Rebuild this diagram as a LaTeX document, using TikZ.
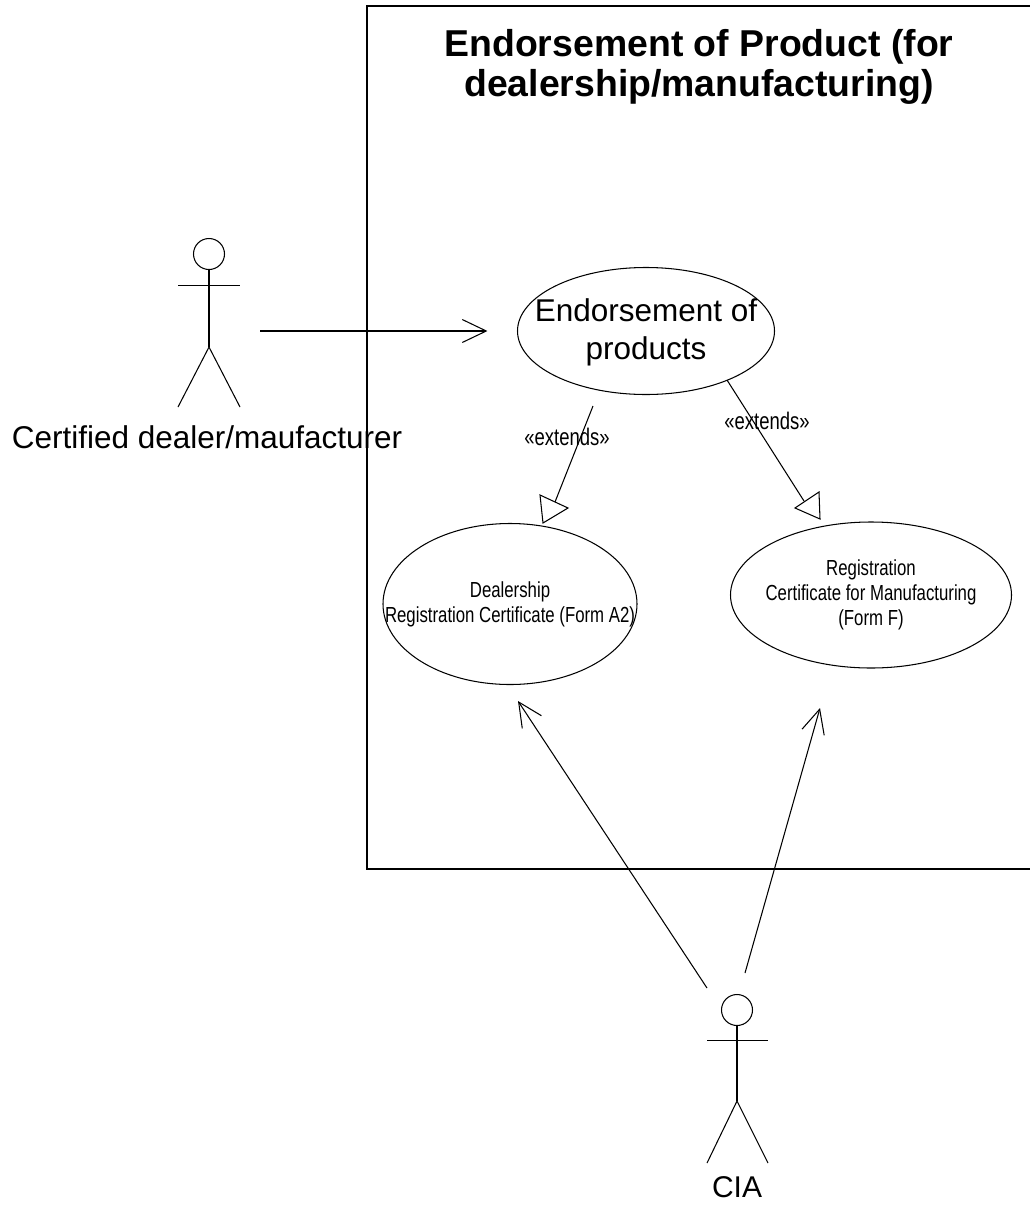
\documentclass[tikz,border=0pt]{standalone}
\usepackage{fontspec}
\setmainfont{Liberation Sans}
\newfontfamily\narrowsans[FakeStretch=0.77]{Liberation Sans}
\usetikzlibrary{arrows.meta,positioning,shapes.geometric,calc}

\tikzset{
  usecase/.style={ellipse, draw, inner sep=0pt},
  casetext/.style={align=center, inner sep=0pt,
    font=\narrowsans\fontsize{21.8}{25}\selectfont},
  head/.style={circle, draw, minimum size=31pt, inner sep=0pt},
  actorname/.style={font=\fontsize{31.5}{36}\selectfont},
  assoc/.style={-{Straight Barb[length=24pt,width=23pt]}},
  stereo/.style={font=\narrowsans\fontsize{24}{26}\selectfont},
}

\begin{document}
\begin{tikzpicture}[x=1pt, y=-1pt, line width=1.05pt]
    \useasboundingbox (0,0) rectangle (1029,1205);

    % SYSTEM BOUNDARY
    \draw (367,6) rectangle (1040,869);
    \node[font=\bfseries\fontsize{37.4}{40}\selectfont, align=center] (TITLE) at (699,67)
    {Endorsement of Product (for\\dealership/manufacturing)};

    % USE CASES
    \node[usecase, minimum width=257pt, minimum height=127pt] (ENDORSE) at (646,331) {};
    \node[align=center, font=\fontsize{31.5}{38}\selectfont] (ENDORSE_TEXT) at (646,332)
    {Endorsement of\\products};

    \node[usecase, minimum width=254pt, minimum height=161pt] (DEALERSHIP) at (510,604) {};
    \node[casetext] (DEALERSHIP_TEXT) at (DEALERSHIP)
    {Dealership\\Registration Certificate (Form A2)};

    \node[usecase, minimum width=281pt, minimum height=146pt] (MANUFACTURING) at (871,595) {};
    \node[casetext] (MANUFACTURING_TEXT) at (MANUFACTURING)
    {Registration\\Certificate for Manufacturing\\(Form F)};

    % ACTORS
    \node[head] (DEALER) at (209,254) {};
    \draw (DEALER.south) -- ++(0,77) coordinate (DEALER_HIP);
    \draw ($(DEALER.south)+(-31,15.5)$) -- ++(62,0);
    \draw (DEALER_HIP) -- ++(-31,60) (DEALER_HIP) -- ++(31,60);
    \node[actorname] (DEALER_NAME) at (207,437) {Certified dealer/maufacturer};

    \node[head] (CIA) at (737,1010) {};
    \draw (CIA.south) -- ++(0,75) coordinate (CIA_HIP);
    \draw ($(CIA.south)+(-30,14.5)$) -- ++(61,0);
    \draw (CIA_HIP) -- ++(-30,62) (CIA_HIP) -- ++(31,62);
    \node[actorname, font=\fontsize{30}{34}\selectfont] (CIA_NAME) at (737,1187) {CIA};

    % LINE ENDS
    \coordinate (DEALER_HAND) at (260,331);
    \coordinate (CIA_LEFT) at (707,988);
    \coordinate (CIA_RIGHT) at (745,973);
    \coordinate (DEALERSHIP_TIP) at (518,701);
    \coordinate (MANUFACTURING_TIP) at (820,708);
    \coordinate (EXT_A_FROM) at (593,406);
    \coordinate (EXT_A_TO) at (555,502);
    \coordinate (EXT_B_FROM) at (727,380);
    \coordinate (EXT_B_TO) at (804,501);

    % LINES
    \draw[assoc] (DEALER_HAND) -- (ENDORSE.west |- DEALER_HAND) [shorten >=29.5pt];
    \draw[assoc] (CIA_LEFT) -- (DEALERSHIP_TIP);
    \draw[assoc] (CIA_RIGHT) -- (MANUFACTURING_TIP);

    % EXTENDS
    \draw (EXT_A_FROM) -- (EXT_A_TO);
    \draw (540,495) -- (568,508) -- (543,523) -- cycle;
    \node[stereo] (EXT_A_LABEL) at (567,437) {«extends»};

    \draw (EXT_B_FROM) -- (EXT_B_TO);
    \draw (795,508) -- (819,492) -- (820,519) -- cycle;
    \node[stereo] (EXT_B_LABEL) at (767,421) {«extends»};
\end{tikzpicture}
\end{document}
